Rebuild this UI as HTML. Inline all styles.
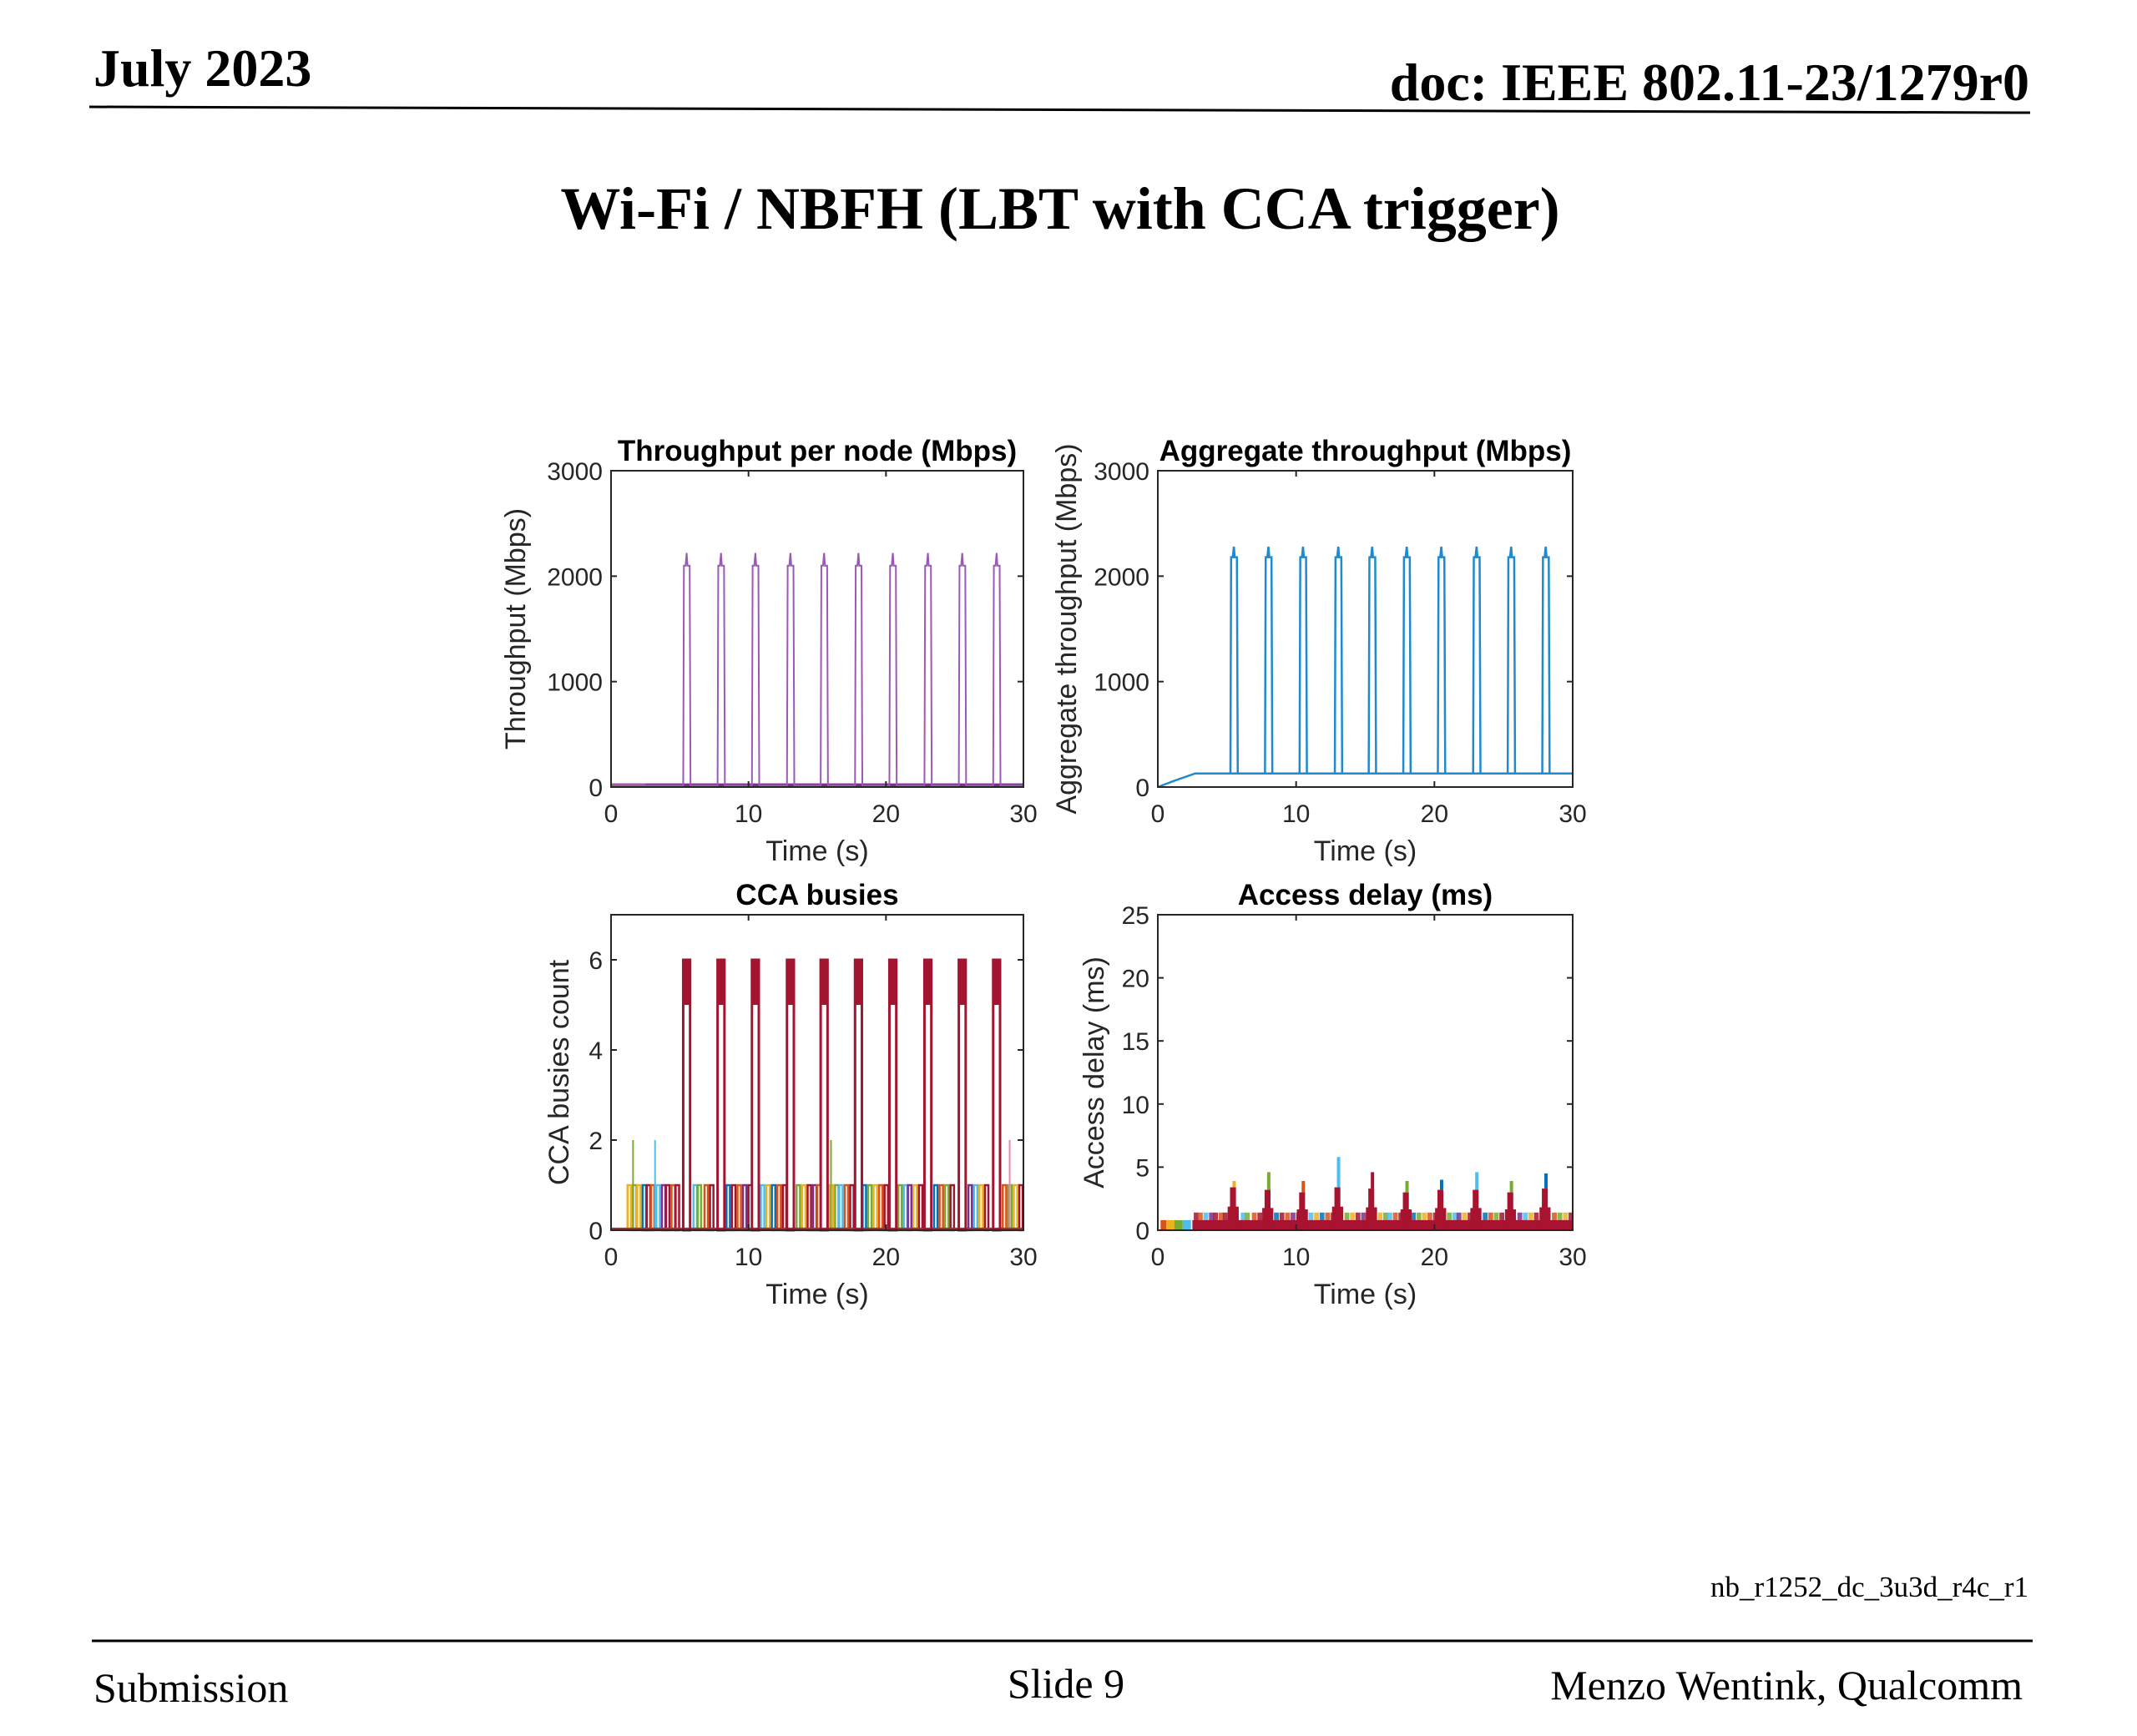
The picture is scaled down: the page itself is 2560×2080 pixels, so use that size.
<!DOCTYPE html>
<html><head><meta charset="utf-8"><style>
html,body{margin:0;padding:0;background:#fff;}
svg{display:block;}
.serif{font-family:"Liberation Serif",serif;}
.sans{font-family:"Liberation Sans",sans-serif;}
</style></head><body>
<svg id="page" width="2560" height="2080" viewBox="0 0 2560 2080" xmlns="http://www.w3.org/2000/svg">
<rect width="2560" height="2080" fill="#fff"/>
<text class="serif" x="112" y="103" font-size="64" font-weight="bold">July 2023</text>
<text class="serif" x="2431" y="120" font-size="64" font-weight="bold" text-anchor="end">doc: IEEE 802.11-23/1279r0</text>
<line x1="107" y1="128" x2="2432" y2="135" stroke="#000" stroke-width="3"/>
<text class="serif" x="1270" y="274" font-size="72" font-weight="bold" text-anchor="middle">Wi-Fi / NBFH (LBT with CCA trigger)</text>
<text class="serif" x="2430" y="1913" font-size="35" text-anchor="end">nb_r1252_dc_3u3d_r4c_r1</text>
<line x1="110" y1="1966" x2="2435" y2="1966" stroke="#000" stroke-width="3"/>
<text class="serif" x="112" y="2039" font-size="50">Submission</text>
<text class="serif" x="1277" y="2034" font-size="50" text-anchor="middle">Slide 9</text>
<text class="serif" x="2423" y="2036" font-size="50" text-anchor="end">Menzo Wentink, Qualcomm</text>
<g id="charts"></g>
</svg>
<script>
// ---- data ----
const pulseTimes = [5.3, 7.8, 10.3, 12.85, 15.3, 17.8, 20.3, 22.85, 25.35, 27.85];
const nodePlateau = [2100, 2100, 2100, 2100, 2100, 2100, 2100, 2100, 2100, 2100];
const nodePeak = [2220, 2220, 2220, 2220, 2220, 2220, 2220, 2220, 2220, 2220];
const aggBase = [0, 60, 129, 129];
const aggBaseT = [0, 1.2, 2.7, 30];
const aggPlateau = [2180, 2180, 2180, 2180, 2180, 2180, 2180, 2180, 2180, 2180];
const aggPeak = [2280, 2280, 2280, 2280, 2280, 2280, 2280, 2280, 2280, 2280];
const ccaPeak = [6, 6, 6, 6, 6, 6, 6, 6, 6, 6];
const ccaOneTimes = [1.2,1.6,1.9,2.3,2.6,2.9,3.3,3.7,4.0,4.4,4.7,6.0,6.3,6.8,7.2,8.4,8.8,9.2,9.6,10.0,10.9,11.3,11.7,12.1,12.5,13.5,13.9,14.3,14.7,15.0,15.9,16.3,16.6,17.0,17.4,18.3,18.7,19.1,19.5,19.9,20.9,21.3,21.6,22.0,22.4,23.5,23.9,24.3,24.7,26.0,26.4,26.8,27.2,28.5,28.9,29.3,29.7];
const ccaOneColors = [2,4,2,0,6,1,5,3,6,1,6,5,4,1,6,0,6,1,3,6,5,2,0,1,6,4,2,6,3,1,2,4,5,1,6,0,4,2,1,6,4,5,3,2,6,0,1,4,6,3,5,2,6,1,4,2,6];
const ccaTwoTimes = [1.6, 3.2, 16.0, 29.0];
const ccaTwoColors = [4, 5, 4, 7];
const delayRed = [3.4, 3.2, 3.0, 3.4, 3.3, 3.0, 3.2, 3.2, 3.0, 3.3];
const delayTip = [3.9, 4.6, 3.9, 5.8, 4.6, 3.9, 4.0, 4.6, 3.9, 4.5];
const delayTipColors = [2, 4, 1, 5, 6, 4, 0, 5, 4, 0];
const delayBand = 0.8;
const delayLevel = 1.4;
const xTicks = [0, 10, 20, 30];
const tpTicks = [0, 1000, 2000, 3000];
const ccaTicks = [0, 2, 4, 6];
const delayTicks = [0, 5, 10, 15, 20, 25];
const C = ['#0072BD','#D95319','#EDB120','#7E2F8E','#77AC30','#4DBEEE','#A2142F','#E88AB0'];

const NS = 'http://www.w3.org/2000/svg';
const root = document.getElementById('charts');
function el(tag, attrs, parent, name) {
  const e = document.createElementNS(NS, tag);
  for (const k in attrs) e.setAttribute(k, attrs[k]);
  
  
  (parent || root).appendChild(e);
  return e;
}
function axes(name, x0, y0, w, h, ymax, yticks, title, ylabel, ylabX) {
  const g = el('g', {}, root, name);
  const sx = t => x0 + t / 30 * w;
  const sy = v => y0 + h - v / ymax * h;
  el('rect', {x:x0, y:y0, width:w, height:h, fill:'#fff'}, g, 'plot-area');
  const plot = el('g', {}, g, 'series-group');
  const fr = el('g', {}, g, 'axes-frame');
  el('rect', {x:x0, y:y0, width:w, height:h, fill:'none', stroke:'#262626', 'stroke-width':2}, fr, 'axes-box');
  xTicks.forEach(t => {
    el('line', {x1:sx(t), y1:y0+h, x2:sx(t), y2:y0+h-7, stroke:'#262626','stroke-width':2}, fr, 'x-tick');
    el('line', {x1:sx(t), y1:y0, x2:sx(t), y2:y0+7, stroke:'#262626','stroke-width':2}, fr, 'x-tick-top');
    const tx = el('text', {x:sx(t), y:y0+h+42, 'font-size':30, 'text-anchor':'middle', fill:'#262626', class:'sans'}, fr, 'x-tick-label');
    tx.textContent = t;
  });
  yticks.forEach(v => {
    el('line', {x1:x0, y1:sy(v), x2:x0+7, y2:sy(v), stroke:'#262626','stroke-width':2}, fr, 'y-tick');
    el('line', {x1:x0+w, y1:sy(v), x2:x0+w-7, y2:sy(v), stroke:'#262626','stroke-width':2}, fr, 'y-tick-right');
    const tx = el('text', {x:x0-10, y:sy(v)+11, 'font-size':30, 'text-anchor':'end', fill:'#262626', class:'sans'}, fr, 'y-tick-label');
    tx.textContent = v;
  });
  const xl = el('text', {x:x0+w/2, y:y0+h+88, 'font-size':34, 'text-anchor':'middle', fill:'#262626', class:'sans'}, g, 'x-axis-title');
  xl.textContent = 'Time (s)';
  const cy = y0 + h/2;
  const yl = el('text', {x:ylabX, y:cy, 'font-size':34, 'text-anchor':'middle', fill:'#262626', class:'sans', transform:`rotate(-90 ${ylabX} ${cy})`}, g, 'y-axis-title');
  yl.textContent = ylabel;
  const tt = el('text', {x:x0+w/2, y:y0-12, 'font-size':35, 'font-weight':'bold', 'text-anchor':'middle', fill:'#000', class:'sans'}, g, 'chart-title');
  tt.textContent = title;
  return {sx, sy, plot};
}
function pulsePath(sx, sy, base, plats, peaks) {
  let d = `M${sx(0)},${sy(base)}`;
  pulseTimes.forEach((t, i) => {
    d += ` L${sx(t-0.05)},${sy(base)} L${sx(t)},${sy(plats[i])} L${sx(t+0.12)},${sy(plats[i])} L${sx(t+0.2)},${sy(peaks[i])} L${sx(t+0.26)},${sy(plats[i])} L${sx(t+0.42)},${sy(plats[i])} L${sx(t+0.48)},${sy(base)}`;
  });
  d += ` L${sx(30)},${sy(base)}`;
  return d;
}

// Plot 1
const a1 = axes('throughput-per-node-chart', 732, 564, 494, 379, 3000, tpTicks, 'Throughput per node (Mbps)', 'Throughput (Mbps)', 629);
el('line', {x1:a1.sx(0), y1:a1.sy(15), x2:a1.sx(30), y2:a1.sy(15), stroke:'#7E2F8E', 'stroke-width':5}, a1.plot, 'node-baseline');
el('line', {x1:a1.sx(0), y1:a1.sy(15), x2:a1.sx(2.5), y2:a1.sy(15), stroke:'#EDB120', 'stroke-width':3}, a1.plot, 'node-baseline-start');
el('path', {d:pulsePath(a1.sx, a1.sy, 15, nodePlateau, nodePeak), fill:'none', stroke:'#9B59B6', 'stroke-width':2}, a1.plot, 'node-throughput-line');

// Plot 2
const a2 = axes('aggregate-throughput-chart', 1387, 564, 497, 379, 3000, tpTicks, 'Aggregate throughput (Mbps)', 'Aggregate throughput (Mbps)', 1289);
let d2 = '';
aggBaseT.forEach((t, i) => { d2 += (i ? ' L' : 'M') + a2.sx(t) + ',' + a2.sy(aggBase[i]); });
el('path', {d:d2, fill:'none', stroke:'#1F8ACD', 'stroke-width':2.5}, a2.plot, 'aggregate-ramp');
el('path', {d:pulsePath(a2.sx, a2.sy, 129, aggPlateau, aggPeak).replace(/^M[^L]*L/, 'M'), fill:'none', stroke:'#1F8ACD', 'stroke-width':2.5}, a2.plot, 'aggregate-throughput-line');

// Plot 3
const a3 = axes('cca-busies-chart', 732, 1096, 494, 378, 7, ccaTicks, 'CCA busies', 'CCA busies count', 681);
ccaOneTimes.forEach((t, i) => {
  el('rect', {x:a3.sx(t), y:a3.sy(1), width:a3.sx(t+0.25)-a3.sx(t), height:a3.sy(0)-a3.sy(1), fill:'none', stroke:C[ccaOneColors[i]], 'stroke-width':2.5}, a3.plot, 'cca-count-bar');
});
ccaTwoTimes.forEach((t, i) => {
  el('line', {x1:a3.sx(t), y1:a3.sy(0), x2:a3.sx(t), y2:a3.sy(2), stroke:C[ccaTwoColors[i]], 'stroke-width':2}, a3.plot, 'cca-count-spike');
});
el('line', {x1:a3.sx(0), y1:a3.sy(0.02), x2:a3.sx(30), y2:a3.sy(0.02), stroke:'#8B3A3A', 'stroke-width':4}, a3.plot, 'cca-baseline');
pulseTimes.forEach((t, i) => {
  const x1 = a3.sx(t - 0.05), x2 = a3.sx(t + 0.45);
  el('rect', {x:x1, y:a3.sy(ccaPeak[i]), width:x2-x1, height:a3.sy(0)-a3.sy(ccaPeak[i]), fill:'none', stroke:'#A2142F', 'stroke-width':3}, a3.plot, 'cca-pulse');
  el('rect', {x:x1, y:a3.sy(ccaPeak[i]), width:x2-x1, height:a3.sy(ccaPeak[i]-1)-a3.sy(ccaPeak[i]), fill:'#A2142F'}, a3.plot, 'cca-pulse-top');
});

// Plot 4
const a4 = axes('access-delay-chart', 1387, 1096, 497, 378, 25, delayTicks, 'Access delay (ms)', 'Access delay (ms)', 1322);
[[0.2,1],[0.6,2],[1.2,4],[1.8,5]].forEach(p => {
  el('rect', {x:a4.sx(p[0]), y:a4.sy(delayBand), width:a4.sx(0.6)-a4.sx(0), height:a4.sy(0)-a4.sy(delayBand), fill:C[p[1]]}, a4.plot, 'delay-start-bar');
});
ccaOneTimes.forEach((t, i) => {
  if (t < 2.5) return;
  el('rect', {x:a4.sx(t), y:a4.sy(delayLevel), width:a4.sx(0.35)-a4.sx(0), height:a4.sy(0)-a4.sy(delayLevel), fill:C[ccaOneColors[i]], opacity:0.85}, a4.plot, 'delay-level-bar');
});
el('rect', {x:a4.sx(2.5), y:a4.sy(delayBand), width:a4.sx(30)-a4.sx(2.5), height:a4.sy(0)-a4.sy(delayBand), fill:'#A8132F'}, a4.plot, 'delay-band');
pulseTimes.forEach((t, i) => {
  el('rect', {x:a4.sx(t+0.1), y:a4.sy(delayTip[i]), width:4, height:a4.sy(delayRed[i])-a4.sy(delayTip[i]), fill:C[delayTipColors[i]]}, a4.plot, 'delay-spike-tip');
  const h1 = delayRed[i] * 0.55, x1 = a4.sx(t - 0.25), x2 = a4.sx(t + 0.55);
  el('rect', {x:x1, y:a4.sy(h1), width:x2-x1, height:a4.sy(0)-a4.sy(h1), fill:'#A8132F'}, a4.plot, 'delay-spike-base');
  const x3 = a4.sx(t - 0.08), x4 = a4.sx(t + 0.35);
  el('rect', {x:x3, y:a4.sy(delayRed[i]), width:x4-x3, height:a4.sy(0)-a4.sy(delayRed[i]), fill:'#A8132F'}, a4.plot, 'delay-spike');
});
</script>
</body></html>
